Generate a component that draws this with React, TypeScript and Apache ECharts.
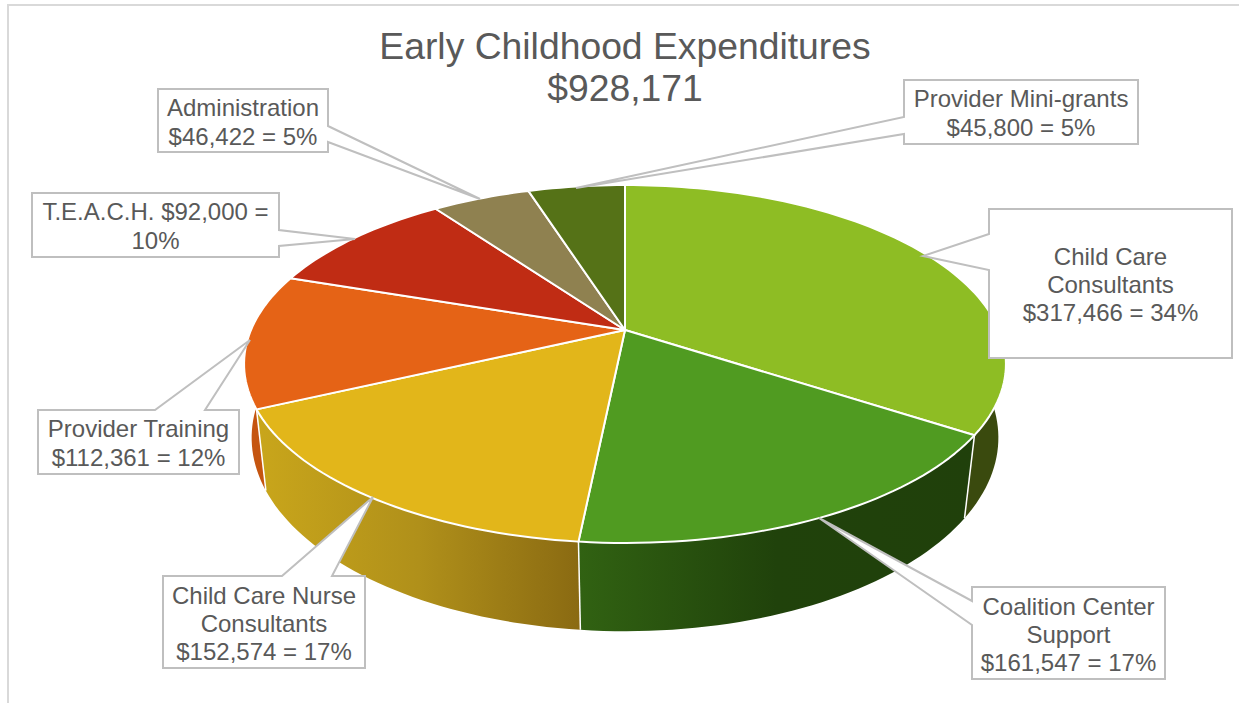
import React, { useEffect, useRef } from "react";
import * as echarts from "echarts";

const titleLines = ["Early Childhood Expenditures", "$928,171"];
const categories = ["Child Care Consultants", "Coalition Center Support", "Child Care Nurse Consultants", "Provider Training", "T.E.A.C.H.", "Administration", "Provider Mini-grants"];
const values = [317466, 161547, 152574, 112361, 92000, 46422, 45800];
const labelTexts = [
  "Child Care\nConsultants\n$317,466 = 34%",
  "Coalition Center\nSupport\n$161,547 = 17%",
  "Child Care Nurse\nConsultants\n$152,574 = 17%",
  "Provider Training\n$112,361 = 12%",
  "T.E.A.C.H. $92,000 =\n10%",
  "Administration\n$46,422 = 5%",
  "Provider Mini-grants\n$45,800 = 5%",
];
const topColors = ["#8EBD24", "#509B21", "#E2B61A", "#E56316", "#C02C14", "#8F8150", "#557217"];
const sideStops: [number, string][][] = [
  [[0, "#3A4A0E"], [1, "#3A4A0E"]],
  [[0, "#316212"], [0.5, "#20420B"], [1, "#20400B"]],
  [[0, "#C9A61B"], [0.5, "#B0901A"], [1, "#8A6A12"]],
  [[0, "#C55510"], [1, "#C55510"]],
  [[0, "#8E2010"], [1, "#8E2010"]],
  [[0, "#6A5F3A"], [1, "#6A5F3A"]],
  [[0, "#3E5410"], [1, "#3E5410"]],
];

// box: [x0, y0, x1, y1], side of the pointer, pointer base a/b, pointer tip
const callouts: { box: number[]; side: string; a: number; b: number; tip: number[] }[] = [
  { box: [989, 209, 1232, 358], side: "left", a: 234, b: 270, tip: [923, 256] },
  { box: [972, 587, 1165, 679], side: "left", a: 601, b: 625, tip: [819, 518] },
  { box: [163, 576, 365, 668], side: "top", a: 282, b: 332, tip: [373, 497] },
  { box: [38, 410, 239, 474], side: "top", a: 155, b: 205, tip: [250, 340] },
  { box: [32, 193, 279, 257], side: "right", a: 230, b: 246, tip: [355, 239] },
  { box: [158, 89, 328, 152], side: "right", a: 126, b: 142, tip: [480, 199] },
  { box: [904, 80, 1138, 144], side: "left", a: 117, b: 134, tip: [576, 188] },
];

const FONT = '"Liberation Sans", Arial, sans-serif';
const CX = 625, CY = 330;
const A = 374, B = 172.5, P = 0.19;
const CY2 = 405, A2 = 368, B2 = 188, P2 = 0.169;
const total = values.reduce((s, v) => s + v, 0);

function project(angle: number, cy: number, a: number, b: number, p: number): number[] {
  const u = Math.sin(angle), v = -Math.cos(angle), w = 1 - p * v;
  return [CX + (a * u) / w, cy + (b * v) / w];
}
const rim = (angle: number) => project(angle, CY, A, B, P);
const lowerRim = (angle: number) => project(angle, CY2, A2, B2, P2);

function sliceAngles(index: number, value: number): number[] {
  let before = 0;
  for (let i = 0; i < index; i++) before += values[i];
  return [(before / total) * Math.PI * 2, ((before + value) / total) * Math.PI * 2];
}
function arc(a0: number, a1: number, fn: (a: number) => number[]): number[][] {
  const n = Math.max(2, Math.ceil((a1 - a0) / (Math.PI / 120)));
  const pts: number[][] = [];
  for (let i = 0; i <= n; i++) pts.push(fn(a0 + ((a1 - a0) * i) / n));
  return pts;
}

function renderSide(params: any, api: any) {
  const i = params.dataIndex;
  const [a0, a1] = sliceAngles(i, api.value(0));
  const points = arc(a0, a1, rim).concat(arc(a0, a1, lowerRim).reverse());
  const children: any[] = [
    {
      type: "polygon",
      shape: { points },
      style: {
        fill: new echarts.graphic.LinearGradient(0, 0, 1, 0, sideStops[i].map(([offset, color]) => ({ offset, color }))),
        stroke: null,
      },
    },
  ];
  if (-Math.cos(a0) > 0 && i > 0) {
    const s = rim(a0), e = lowerRim(a0);
    children.push({
      type: "line",
      z2: 5,
      shape: { x1: s[0], y1: s[1], x2: e[0], y2: e[1] },
      style: { stroke: "#FFFFFF", lineWidth: 1.5 },
    });
  }
  return { type: "group", children };
}

function renderTop(params: any, api: any) {
  const i = params.dataIndex;
  const [a0, a1] = sliceAngles(i, api.value(0));
  return {
    type: "polygon",
    shape: { points: [[CX, CY]].concat(arc(a0, a1, rim)) },
    style: { fill: topColors[i], stroke: "#FFFFFF", lineWidth: 2, lineJoin: "round" },
  };
}

function calloutPoints(c: { box: number[]; side: string; a: number; b: number; tip: number[] }) {
  const [x0, y0, x1, y1] = c.box;
  if (c.side === "left") return [[x0, y0], [x1, y0], [x1, y1], [x0, y1], [x0, c.b], c.tip, [x0, c.a]];
  if (c.side === "right") return [[x0, y0], [x1, y0], [x1, c.a], c.tip, [x1, c.b], [x1, y1], [x0, y1]];
  return [[x0, y0], [c.a, y0], c.tip, [c.b, y0], [x1, y0], [x1, y1], [x0, y1]];
}

export default function App() {
  const ref = useRef<HTMLDivElement>(null);
  useEffect(() => {
    document.body.style.margin = "0";
    document.body.style.background = "#FFFFFF";
    const chart = echarts.init(ref.current!, undefined, { renderer: "svg" });
    const elements: any[] = [
      {
        type: "polyline",
        z: 1,
        shape: { points: [[8, 703], [8, 5], [1239, 5]] },
        style: { stroke: "#D9D9D9", lineWidth: 2, fill: null },
      },
    ];
    callouts.forEach((c, i) => {
      elements.push({
        type: "polygon",
        z: 20 + i,
        shape: { points: calloutPoints(c) },
        style: { fill: "#FFFFFF", stroke: "#BFBFBF", lineWidth: 2 },
      });
    });
    callouts.forEach((c, i) => {
      const lines = labelTexts[i].split("\n").length;
      elements.push({
        type: "text",
        z: 40,
        x: (c.box[0] + c.box[2]) / 2,
        y: (c.box[1] + c.box[3]) / 2 + 1,
        style: {
          text: labelTexts[i],
          fill: "#595959",
          fontSize: 24,
          fontFamily: FONT,
          lineHeight: lines === 3 ? 28 : 29,
          align: "center",
          verticalAlign: "middle",
        },
      });
    });
    chart.setOption({
      animation: false,
      backgroundColor: "#FFFFFF",
      title: {
        text: titleLines.join("\n"),
        left: 625,
        top: 25,
        padding: 0,
        textAlign: "center",
        textStyle: { color: "#595959", fontSize: 37.3, fontWeight: "normal", fontFamily: FONT, lineHeight: 42 },
      },
      tooltip: { show: false },
      graphic: { elements },
      series: [
        {
          type: "custom",
          name: "sides",
          coordinateSystem: "none",
          z: 2,
          silent: true,
          renderItem: renderSide,
          data: values.map((v, i) => ({ name: categories[i], value: [v] })),
        },
        {
          type: "custom",
          name: "tops",
          coordinateSystem: "none",
          z: 3,
          silent: true,
          renderItem: renderTop,
          data: values.map((v, i) => ({ name: categories[i], value: [v] })),
        },
      ],
    });
    return () => chart.dispose();
  }, []);
  return <div ref={ref} style={{ position: "absolute", left: 0, top: 0, width: 1239, height: 703, overflow: "hidden" }} />;
}
